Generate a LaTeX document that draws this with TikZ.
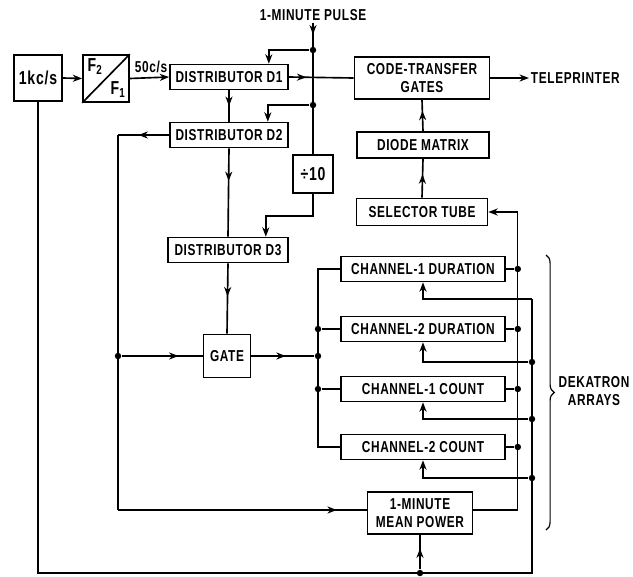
\documentclass[tikz,border=0pt]{standalone}
\usepackage{fontspec}
\setmainfont{Liberation Sans}[FakeStretch=0.75, LetterSpace=4]
\usetikzlibrary{arrows.meta, positioning, calc,
                decorations.markings, decorations.pathreplacing}
\newcommand{\lbl}{\fontsize{13.5}{15}\selectfont\bfseries}
\newcommand{\lblbig}{\fontsize{16}{18}\selectfont\bfseries}

\begin{document}
\begin{tikzpicture}[
    x=0.03cm, y=-0.03cm, line width=1.4pt,
    >={Stealth[length=8pt,width=6pt,inset=2.5pt]},
    block/.style={draw, rectangle, inner sep=0pt, align=center,
                  font=\lbl},
    chan/.style={block, minimum width=4.92cm, minimum height=0.75cm},
    tag/.style={font=\lbl, inner sep=1pt, align=center},
    dot/.style={circle, fill, inner sep=0pt, minimum size=5.5pt},
    midtip/.style={postaction={decorate},
                   decoration={markings,
                               mark=at position #1 with {\arrow{>}}}},
    midtip/.default=0.5,
]
\useasboundingbox (0,0) rectangle (633,576);

% ==========================================================
% Clock chain and distributors
% ==========================================================
\node[block, minimum width=1.44cm, minimum height=1.38cm, font=\lblbig] (osc)
    at (38,78) {1kc/s};
\node[block, minimum width=1.38cm, minimum height=1.41cm] (ratio)
    at (106,78.5) {};
\draw (ratio.south west) -- (ratio.north east);
\node[tag, font=\lblbig] (f2) at (95,67) {F\textsubscript{2}};
\node[tag, font=\lblbig] (f1) at (118,90) {F\textsubscript{1}};
\node[tag, anchor=south] (rate) at (151,75) {50c/s};

\node[block, minimum width=3.54cm, minimum height=0.75cm] (d1)
    at (229,77) {DISTRIBUTOR D1};
\node[block, minimum width=3.54cm, minimum height=0.75cm] (d2)
    at (229,135) {DISTRIBUTOR D2};
\node[block, minimum width=3.6cm, minimum height=0.75cm] (d3)
    at (228,250) {DISTRIBUTOR D3};
\node[block, minimum width=1.2cm, minimum height=1.14cm, font=\lblbig] (tenth)
    at (313,174) {÷10};
\node[block, minimum width=1.41cm, minimum height=1.29cm] (gate)
    at (227,356) {GATE};

\node[tag] (pulse) at (313,15) {1-MINUTE PULSE};
\node[dot] (j1) at (313,50) {};
\node[dot] (j2) at (313,105) {};

\draw[->] (osc.east) -- (ratio.west);
\draw[->] (ratio.east) -- (d1.west);
\draw[midtip=0.09] (pulse.south) -- (tenth.north);
\draw[->] (j1) -| ($(d1.north east)+(-20,0)$);
\draw[->] (j2) -| ($(d2.north east)+(-21,0)$);
\draw[midtip] (d1.south) -- (d2.north);
\draw[midtip=0.37] (d2.south) -- (d3.north);
\draw[midtip=0.47] (d3.south) -- (gate.north);
\draw[->] (tenth.south) -- ++(0,22) -| ($(d3.north east)+(-23,0)$);

% ==========================================================
% Output path
% ==========================================================
\node[block, minimum width=4.05cm, minimum height=1.26cm] (ctg)
    at (422,78) {CODE-TRANSFER\\GATES};
\node[block, minimum width=3.96cm, minimum height=0.78cm] (dm)
    at (423,145) {DIODE MATRIX};
\node[block, minimum width=3.93cm, minimum height=0.81cm] (st)
    at (422,212) {SELECTOR TUBE};
\node[tag, anchor=west] (tp) at (529,78) {TELEPRINTER};

\draw[midtip=0.27] (d1.east) -- (ctg.west);
\draw[->] (ctg.east) -- (tp.west);
\draw[midtip=0.6] (st.north) -- (dm.south);
\draw[midtip=0.65] (dm.north) -- (ctg.south);

% ==========================================================
% Dekatron arrays
% ==========================================================
\node[chan] (c1d) at (423,269) {CHANNEL-1 DURATION};
\node[chan] (c2d) at (423,329) {CHANNEL-2 DURATION};
\node[chan] (c1c) at (423,389) {CHANNEL-1 COUNT};
\node[chan] (c2c) at (423,447) {CHANNEL-2 COUNT};
\node[block, minimum width=3.15cm, minimum height=1.26cm] (mp)
    at (420,513) {1-MINUTE\\MEAN POWER};

% left feed from distributor D2 and gate
\coordinate (lt) at (118,135);
\node[dot] (lg) at (118,356) {};
\coordinate (lb) at (118,510);
\draw[midtip=0.6] (d2.west) -- (lt);
\draw (lt) -- (lb);
\draw[midtip=0.88] (lb) -- (lb -| mp.west);
\draw[midtip=0.7] (lg) -- (gate.west);

\coordinate (bb) at (318,447);
\node[dot] (b2) at (318,329) {};
\node[dot] (bg) at (318,356) {};
\node[dot] (b3) at (318,389) {};
\draw (c1d.west) -| (bb) -- (c2c.west);
\draw (b2) -- (c2d.west);
\draw (b3) -- (c1c.west);
\draw[midtip=0.55] (gate.east) -- (bg);

% right bus to selector tube
\draw[->] (mp.east |- lb) -| ($(st.east)+(29,0)$) -- (st.east);
\foreach \ch/\nm in {c1d/r1, c2d/r2, c1c/r3, c2c/r4} {
    \node[dot] (\nm) at ($(\ch.east)+(12,0)$) {};
    \draw (\ch.east) -- (\nm);
}

% reset lines from the oscillator
\coordinate (ft) at (532,299);
\node[dot] (fa) at (532,362) {};
\node[dot] (fc) at (532,419) {};
\node[dot] (fd) at (532,478) {};
\coordinate (fb) at (532,573);
\draw[->] (ft) -| (c1d.south);
\draw[->] (fa) -| (c2d.south);
\draw[->] (fc) -| (c1c.south);
\draw[->] (fd) -| (c2c.south);
\draw (ft) -- (fb) -| (osc.south);
\node[dot] (fm) at (mp.south |- fb) {};
\draw[midtip=0.6] (fm) -- (mp.south);

% brace
\draw[decorate, decoration={brace, amplitude=7pt}, line width=1pt]
    (546,255) -- (546,530);
\node[tag] (dek) at (594,391) {DEKATRON\\ARRAYS};

\end{tikzpicture}
\end{document}
